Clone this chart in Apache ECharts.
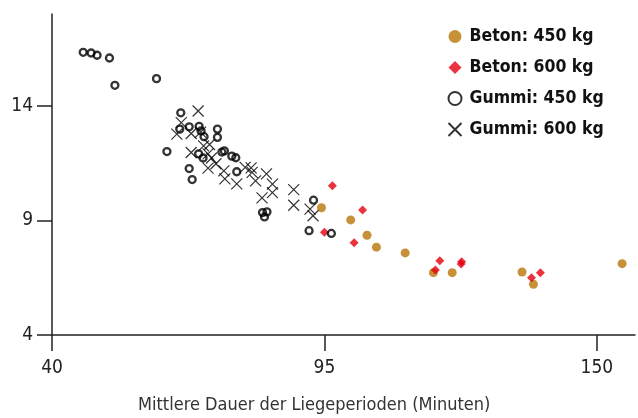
<!DOCTYPE html>
<html>
<head>
<meta charset="utf-8">
<script src="https://cdn.jsdelivr.net/npm/echarts@6/dist/echarts.min.js"></script>
<style>
  html, body { margin: 0; padding: 0; background: #fff; }
  #main { width: 638px; height: 418px; }
</style>
</head>
<body>
<div id="main"></div>
<script>
// Werte: [Dauer (Minuten), y-Wert]
const beton450 = [
  [94.4, 9.55], [100.3, 9.02], [103.6, 8.35], [105.5, 7.83], [111.3, 7.58],
  [117.0, 6.72], [120.8, 6.72], [134.9, 6.75], [137.2, 6.21], [155.1, 7.11]
];
const beton600 = [
  [96.6, 10.51], [102.7, 9.45], [95.0, 8.48], [101.0, 8.02], [118.3, 7.24],
  [117.4, 6.84], [122.7, 7.19], [122.6, 7.10], [136.8, 6.50], [138.6, 6.71]
];
const gummi450 = [
  [46.3, 16.33], [47.9, 16.30], [49.1, 16.20], [51.6, 16.08], [52.7, 14.89],
  [61.1, 15.18], [66.0, 13.69], [67.7, 13.08], [65.8, 12.98], [69.7, 13.10],
  [70.1, 12.90], [70.7, 12.65], [73.4, 12.98], [73.4, 12.62], [63.2, 12.00],
  [69.6, 11.90], [70.5, 11.72], [74.3, 11.98], [74.8, 12.03], [76.3, 11.80],
  [77.1, 11.73], [67.7, 11.26], [68.3, 10.78], [77.3, 11.12], [82.5, 9.34],
  [83.4, 9.37], [82.9, 9.15], [92.8, 9.88], [91.9, 8.55], [96.4, 8.43]
];
const gummi600 = [
  [69.5, 13.77], [66.1, 13.26], [65.2, 12.76], [68.1, 12.79], [70.0, 12.85],
  [70.6, 12.25], [71.8, 12.31], [68.1, 11.96], [71.5, 11.90], [72.2, 11.72],
  [73.1, 11.47], [71.5, 11.28], [74.7, 11.16], [74.9, 10.81], [77.3, 10.59],
  [79.0, 11.31], [80.2, 11.29], [80.4, 11.09], [81.1, 10.72], [83.3, 11.03],
  [84.5, 10.58], [84.5, 10.21], [82.4, 9.98], [88.8, 10.34], [88.8, 9.66],
  [92.1, 9.49], [92.7, 9.20]
];
const xTicks = [40, 95, 150];
const yTicks = [4, 9, 14];
const seriesNames = ['Beton: 450 kg', 'Beton: 600 kg', 'Gummi: 450 kg', 'Gummi: 600 kg'];

const fontFam = '"Liberation Sans Narrow", "DejaVu Sans Condensed", "Roboto", sans-serif';
const crossPath = 'path://M0,0L10,10M10,0L0,10';

var chart = echarts.init(document.getElementById('main'), null, { renderer: 'canvas' });

var option = {
  backgroundColor: '#fff',
  animation: false,
  title: {
    text: 'Mittlere Dauer der Liegeperioden (Minuten)',
    left: 138,
    top: 396,
    padding: 0,
    textStyle: { fontFamily: fontFam, fontSize: 18, fontWeight: 'normal', color: '#333' }
  },
  grid: { left: 52, right: 3, top: 14, bottom: 83 },
  legend: {
    orient: 'vertical',
    left: 441,
    top: 21,
    itemWidth: 13,
    itemHeight: 13,
    itemGap: 10,
    data: seriesNames,
    textStyle: {
      fontFamily: fontFam, fontSize: 17.5, fontWeight: 'bold', color: '#111',
      lineHeight: 21, padding: [0, 0, 0, 3]
    }
  },
  xAxis: {
    type: 'value',
    min: 40,
    max: 157.7,
    splitLine: { show: false },
    axisLine: { lineStyle: { color: '#222', width: 1.5 } },
    axisTick: { length: 16, customValues: xTicks, lineStyle: { color: '#222', width: 1.5 } },
    axisLabel: { customValues: xTicks, margin: 24, fontFamily: fontFam, fontSize: 19, color: '#222' }
  },
  yAxis: {
    type: 'value',
    min: 4,
    max: 18,
    splitLine: { show: false },
    axisLine: { show: true, lineStyle: { color: '#222', width: 1.5 } },
    axisTick: { show: true, length: 15, customValues: yTicks, lineStyle: { color: '#222', width: 1.5 } },
    axisLabel: { customValues: yTicks, margin: 19, fontFamily: fontFam, fontSize: 19, color: '#222' }
  },
  series: [
    {
      name: seriesNames[0], type: 'scatter', data: beton450,
      symbol: 'circle', symbolSize: 9,
      itemStyle: { color: '#b97509' }
    },
    {
      name: seriesNames[1], type: 'scatter', data: beton600,
      symbol: 'diamond', symbolSize: 9,
      itemStyle: { color: '#e4000f' }
    },
    {
      name: seriesNames[2], type: 'scatter', data: gummi450,
      symbol: 'circle', symbolSize: 7,
      itemStyle: { color: 'rgba(255,255,255,0)', borderColor: '#000', borderWidth: 2.3 }
    },
    {
      name: seriesNames[3], type: 'scatter', data: gummi600,
      symbol: crossPath, symbolSize: 11,
      itemStyle: { color: 'none', borderColor: '#000', borderWidth: 1.2 }
    }
  ]
};

option && chart.setOption(option);
</script>
</body>
</html>
